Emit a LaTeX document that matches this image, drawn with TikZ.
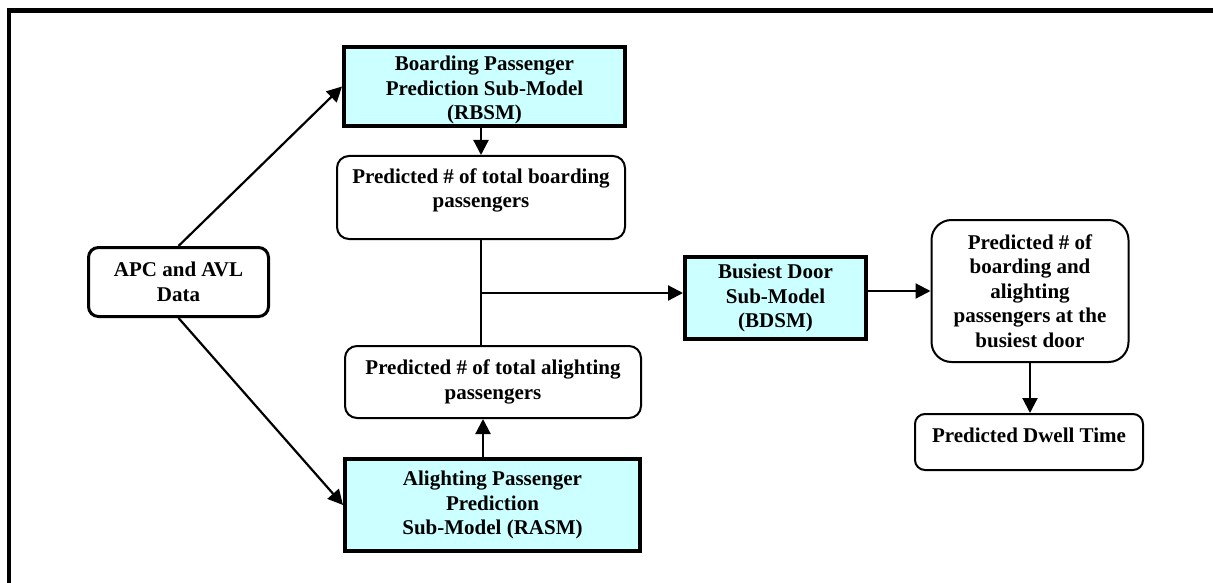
\documentclass[tikz,border=0pt]{standalone}
\usepackage{fontspec}
\setmainfont{Liberation Serif}
\usetikzlibrary{arrows.meta}
\definecolor{boxcyan}{HTML}{CCFFFF}
\tikzset{
  txt/.style={align=center, inner sep=0pt, font=\bfseries\fontsize{21}{24.5}\selectfont},
  model/.style={txt, draw, line width=4pt, fill=boxcyan, rectangle},
  result/.style={txt, draw, line width=2pt, rounded corners=12pt, rectangle},
  arr/.style={line width=2.2pt, -{Triangle[length=15pt,width=15pt]}},
  conn/.style={line width=2pt}
}
\begin{document}
\begin{tikzpicture}[x=1pt, y=-1pt]
\useasboundingbox (0,0) rectangle (1213,583);
\begin{scope}
\clip (0,0) rectangle (1213,583);
\draw[line width=4.5pt] (9,10.5) rectangle (1240,620);
\end{scope}

% nodes
\node[txt, draw, line width=3pt, rounded corners=10pt, minimum width=180pt, minimum height=69pt] (apc) at (178.5,282) {APC and AVL\\Data};

\node[model, minimum width=281pt, minimum height=79pt] (rbsm) at (484.5,86.5) {};
\node[txt] (rbsmt) at (484.5,90) {Boarding Passenger\\Prediction Sub-Model\\(RBSM)};

\node[result, minimum width=288pt, minimum height=83pt] (bp) at (481,197.5) {};
\node[txt] (bpt) at (481,190.5) {Predicted \# of total boarding\\passengers};

\node[result, minimum width=296pt, minimum height=72pt] (ap) at (493,382) {Predicted \# of total alighting\\passengers};

\node[model, minimum width=295pt, minimum height=92pt] (rasm) at (492.5,505) {Alighting Passenger\\Prediction\\Sub-Model (RASM)};

\node[model, minimum width=181pt, minimum height=82pt] (bdsm) at (775.5,298) {Busiest Door\\Sub-Model\\(BDSM)};

\node[result, rounded corners=20pt, minimum width=197pt, minimum height=142pt] (out) at (1030,291) {Predicted \# of\\boarding and\\alighting\\passengers at the\\busiest door};

\node[result, rounded corners=10pt, minimum width=228pt, minimum height=56pt] (dwell) at (1029,442) {};
\node[txt] (dwellt) at (1029,435) {Predicted Dwell Time};

% connectors
\draw[arr] (apc.north) -- (rbsm.west);
\draw[arr] (apc.south) -- (rasm.west);
\draw[arr] (rbsm.south -| bp.north) -- (bp.north);
\coordinate (j) at (481.7,293);
\draw[conn] (bp.south) -- (bp.south |- ap.north);
\draw[arr] (rasm.north -| 483,0) -- (ap.south -| 483,0);
\draw[arr] (j) -- (j -| bdsm.west);
\draw[arr] (bdsm.east |- out.west) -- (out.west);
\draw[arr] (out.south) -- (out.south |- dwell.north);
\end{tikzpicture}
\end{document}
